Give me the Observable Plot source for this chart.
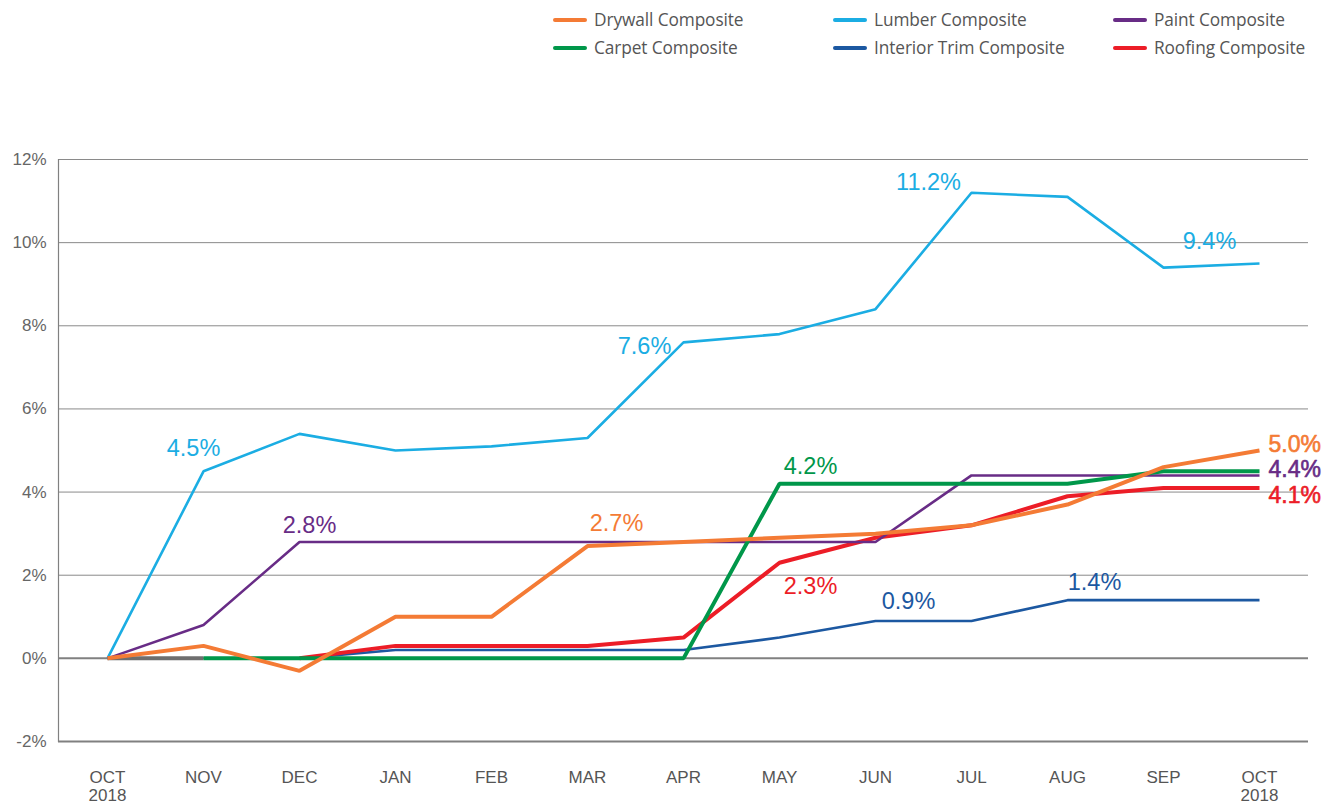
<!DOCTYPE html>
<html>
<head>
<meta charset="utf-8">
<script src="https://cdn.jsdelivr.net/npm/d3@7"></script>
<script src="https://cdn.jsdelivr.net/npm/@observablehq/plot@0.6"></script>
<style>
  html, body { margin: 0; padding: 0; background: #fff; }
  #wrap { position: relative; width: 1336px; height: 808px; font-family: "Liberation Sans", Arial, sans-serif; }
  #legend { position: absolute; left: 0; top: 0; width: 1336px; height: 60px; }
  .item { position: absolute; display: flex; align-items: center; font-family: "Open Sans", "Liberation Sans", sans-serif; font-size: 17.3px; color: #555; letter-spacing: -0.1px; }
  .swatch { width: 34px; height: 4px; margin-right: 7px; border-radius: 2px; }
  #chart { position: absolute; left: 0; top: 0; }
</style>
</head>
<body>
<div id="wrap">
  <div id="chart"></div>
  <div id="legend"></div>
</div>
<script>
const months = ["OCT\n2018", "NOV", "DEC", "JAN", "FEB", "MAR", "APR", "MAY", "JUN", "JUL", "AUG", "SEP", "OCT\n2018"];
const yTicks = [-2, 0, 2, 4, 6, 8, 10, 12];

const seriesNames = ["Drywall Composite", "Lumber Composite", "Paint Composite", "Carpet Composite", "Interior Trim Composite", "Roofing Composite"];
const seriesColors = ["#F47B35", "#1BADE3", "#682C86", "#00974A", "#1C58A1", "#EC1D27"];

const drywall = [0, 0.3, -0.3, 1.0, 1.0, 2.7, 2.8, 2.9, 3.0, 3.2, 3.7, 4.6, 5.0];
const lumber  = [0, 4.5, 5.4, 5.0, 5.1, 5.3, 7.6, 7.8, 8.4, 11.2, 11.1, 9.4, 9.5];
const paint   = [0, 0.8, 2.8, 2.8, 2.8, 2.8, 2.8, 2.8, 2.8, 4.4, 4.4, 4.4, 4.4];
const carpet  = [0, 0, 0, 0, 0, 0, 0, 4.2, 4.2, 4.2, 4.2, 4.5, 4.5];
const trim    = [null, null, 0, 0.2, 0.2, 0.2, 0.2, 0.5, 0.9, 0.9, 1.4, 1.4, 1.4];
const roofing = [null, null, 0, 0.3, 0.3, 0.3, 0.5, 2.3, 2.9, 3.2, 3.9, 4.1, 4.1];

// annotations: series index, month index, text
const annSeries = [1, 1, 1, 1, 2, 0, 3, 5, 4, 4];
const annMonth  = [1, 6, 9, 11, 2, 5, 7, 7, 8, 10];
const annText   = ["4.5%", "7.6%", "11.2%", "9.4%", "2.8%", "2.7%", "4.2%", "2.3%", "0.9%", "1.4%"];
const endSeries = [0, 2, 5];
const endText   = ["5.0%", "4.4%", "4.1%"];

// styling (not data)
const annOffset = [[-10,-23],[-39,4],[-43,-10],[46,-26],[10,-16],[29,-23],[31,-17],[31,24],[33,-19],[27,-18]];
const endDy = [-6, -6, 8];
const widths = [4, 2.6, 2.6, 4, 2.6, 4];
const drawOrder = [1, 4, 5, 2, 3, 0];

const allValues = [drywall, lumber, paint, carpet, trim, roofing];
const rows = [];
allValues.forEach((vals, s) => vals.forEach((v, i) => { if (v !== null) rows.push({s, i, v}); }));

const marks = [];
// gridlines
marks.push(Plot.ruleY(yTicks.filter(t => t !== 0 && t !== -2), {stroke: "#8a8a8a", strokeWidth: 1}));
marks.push(Plot.ruleY([0, -2], {stroke: "#808080", strokeWidth: 2}));
marks.push(Plot.frame({anchor: "left", stroke: "#808080", strokeWidth: 1.2}));
marks.push(Plot.axisY({ticks: yTicks, tickFormat: d => d + "%", tickSize: 0, tickPadding: 12, fontSize: 17, fill: "#666", label: null, stroke: "none"}));
marks.push(Plot.axisX({tickFormat: i => months[i], tickSize: 0, tickPadding: 28, fontSize: 17, fill: "#555", label: null, lineHeight: 1.1, textAnchor: "middle"}));

for (const s of drawOrder) {
  let data = rows.filter(r => r.s === s);
  if (s === 3) {
    // carpet: first segment shown in gray in the original
    marks.push(Plot.line(data.filter(r => r.i <= 1), {x: "i", y: "v", stroke: "#6e6e6e", strokeWidth: widths[s], strokeLinecap: "butt"}));
    data = data.filter(r => r.i >= 1);
  }
  marks.push(Plot.line(data, {x: "i", y: "v", stroke: seriesColors[s], strokeWidth: widths[s], strokeLinejoin: "miter", strokeLinecap: "butt"}));
}

annText.forEach((t, k) => {
  const s = annSeries[k], i = annMonth[k];
  marks.push(Plot.text([{i, v: allValues[s][i], t}], {x: "i", y: "v", text: "t", fill: seriesColors[s], fontSize: 23.5, dx: annOffset[k][0], dy: annOffset[k][1]}));
});
endText.forEach((t, k) => {
  const s = endSeries[k], i = 12;
  marks.push(Plot.text([{i, v: allValues[s][i], t}], {x: "i", y: "v", text: "t", fill: seriesColors[s], stroke: seriesColors[s], strokeWidth: 0.6, fontSize: 23, textAnchor: "start", dx: 9, dy: endDy[k]}));
});

const chart = Plot.plot({
  width: 1336,
  height: 808,
  marginLeft: 58,
  marginRight: 28,
  marginTop: 159,
  marginBottom: 67,
  style: {fontFamily: "'Liberation Sans', Arial, sans-serif", background: "#fff", overflow: "visible"},
  x: {type: "point", domain: d3.range(months.length), padding: 0.5},
  y: {domain: [-2, 12]},
  marks
});
document.getElementById("chart").appendChild(chart);

// legend
const legendPos = [[553, 8], [833, 8], [1113, 8], [553, 36], [833, 36], [1113, 36]];
const legendOrder = [0, 1, 2, 3, 4, 5];
const leg = document.getElementById("legend");
legendOrder.forEach((s, k) => {
  const d = document.createElement("div");
  d.className = "item";
  d.style.left = legendPos[k][0] + "px";
  d.style.top = legendPos[k][1] + "px";
  d.innerHTML = `<span class="swatch" style="background:${seriesColors[s]}"></span><span>${seriesNames[s]}</span>`;
  leg.appendChild(d);
});
</script>
</body>
</html>
